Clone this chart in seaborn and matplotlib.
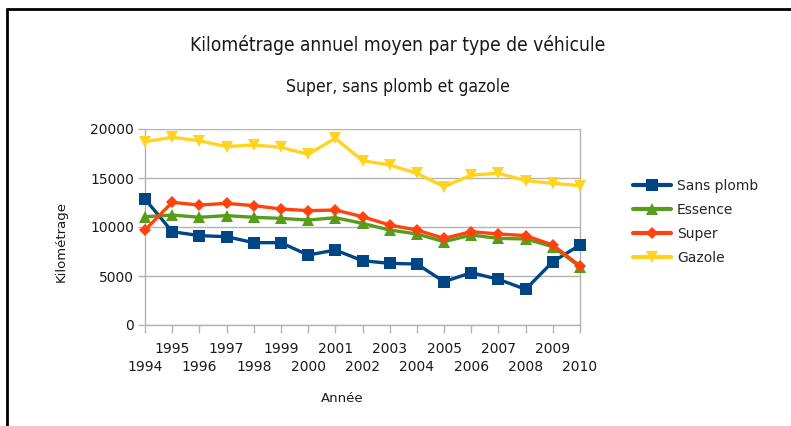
import matplotlib
matplotlib.use("Agg")
import matplotlib.pyplot as plt
import seaborn as sns
import pandas as pd
from matplotlib.lines import Line2D
from matplotlib.ticker import FixedLocator, FixedFormatter

years = list(range(1994, 2011))
sans_plomb = [12850, 9520, 9120, 9010, 8400, 8400, 7140, 7650, 6560, 6290, 6220, 4420, 5340, 4660, 3640, 6460, 8160]
essence = [11050, 11220, 10990, 11160, 10990, 10880, 10710, 10950, 10370, 9690, 9290, 8500, 9180, 8840, 8780, 7990, 5950]
super_ = [9690, 12520, 12240, 12410, 12180, 11840, 11670, 11730, 11050, 10200, 9690, 8840, 9520, 9290, 9120, 8160, 6020]
gazole = [18700, 19150, 18800, 18200, 18370, 18130, 17420, 19050, 16770, 16330, 15480, 14120, 15300, 15480, 14730, 14460, 14220]

series_names = ["Sans plomb", "Essence", "Super", "Gazole"]
series_values = [sans_plomb, essence, super_, gazole]
colors = ["#004586", "#579d1c", "#ff420e", "#ffd320"]
markers = ["s", "^", "D", "v"]
y_ticks = [0, 5000, 10000, 15000, 20000]

rows = []
for name, vals in zip(series_names, series_values):
    for y, v in zip(years, vals):
        rows.append({"Année": y, "Kilométrage": v, "Type": name})
df = pd.DataFrame(rows)

sns.set_theme(style="white")
plt.rcParams["font.family"] = ["DejaVu Sans"]

fig = plt.figure(figsize=(7.91, 4.26), dpi=100)
ax = fig.add_axes([145 / 791, 1 - 325 / 426, (580 - 145) / 791, (325 - 129) / 426])

sns.lineplot(
    data=df, x="Année", y="Kilométrage", hue="Type", style="Type",
    hue_order=series_names, style_order=series_names,
    palette=dict(zip(series_names, colors)),
    markers=dict(zip(series_names, markers)),
    dashes=False, linewidth=2.4, markersize=8, markeredgewidth=0,
    ax=ax, legend=False,
)
# markers at the first and last year stay whole; diamonds a touch smaller
for line, m in zip(ax.get_lines(), markers):
    line.set_clip_on(False)
    if m == "D":
        line.set_markersize(6.5)

ax.set_xlim(years[0], years[-1])
ax.set_ylim(0, 20000)
ax.set_yticks(y_ticks)
ax.set_yticklabels([str(t) for t in y_ticks])

# odd years on the upper row (major ticks), even years on the lower row (minor ticks)
odd_years = [y for y in years if y % 2]
even_years = [y for y in years if not y % 2]
ax.xaxis.set_major_locator(FixedLocator(odd_years))
ax.xaxis.set_major_formatter(FixedFormatter([str(y) for y in odd_years]))
ax.xaxis.set_minor_locator(FixedLocator(even_years))
ax.xaxis.set_minor_formatter(FixedFormatter([str(y) for y in even_years]))

ax.yaxis.grid(True, color="#b3b3b3", linewidth=1)
ax.xaxis.grid(False)
ax.set_axisbelow(True)
for side in ["left", "bottom", "right"]:
    ax.spines[side].set_color("#b3b3b3")
    ax.spines[side].set_linewidth(1)
    ax.spines[side].set_zorder(0.5)
ax.spines["top"].set_visible(False)
ax.tick_params(axis="x", which="major", direction="out", length=6, width=1,
               color="#b3b3b3", labelsize=10, labelcolor="#1a1a1a", pad=6,
               bottom=True)
ax.tick_params(axis="x", which="minor", direction="out", length=6, width=1,
               color="#b3b3b3", labelsize=10, labelcolor="#1a1a1a", pad=19,
               bottom=True)
ax.tick_params(axis="y", direction="out", length=5, width=1, color="#b3b3b3",
               labelsize=10, labelcolor="#1a1a1a", pad=3, left=True)
ax.set_xlabel("Année", fontsize=9.5, color="#1a1a1a", va="center")
ax.set_ylabel("Kilométrage", fontsize=9.5, color="#1a1a1a", va="center")
ax.xaxis.set_label_coords((342 - 145) / 435, (325 - 398) / 196)
ax.yaxis.set_label_coords((61 - 145) / 435, (325 - 242) / 196)

handles = [Line2D([0], [0], color=c, marker=m, linewidth=3,
                  markersize=8 if m != "D" else 6.5, markeredgewidth=0)
           for c, m in zip(colors, markers)]
fig.legend(handles, series_names, loc="upper left",
           bbox_to_anchor=(633 / 791, 1 - 179 / 426), frameon=False,
           fontsize=10, handlelength=2.7, handletextpad=0.45, labelspacing=0.72,
           borderaxespad=0, borderpad=0)

fig.text(0.503, 1 - 45 / 426, "Kilométrage annuel moyen par type de véhicule",
         ha="center", va="center", fontsize=13.8, fontstretch="condensed",
         family=["DejaVu Sans"], color="#1a1a1a")
fig.text(0.503, 1 - 87 / 426, "Super, sans plomb et gazole",
         ha="center", va="center", fontsize=12.6, fontstretch="condensed",
         family=["DejaVu Sans"], color="#1a1a1a")

# frame lines along the top and left edges
fig.add_artist(Line2D([7 / 791, 1], [1 - 9 / 426, 1 - 9 / 426], color="black",
                      linewidth=2, transform=fig.transFigure))
fig.add_artist(Line2D([7 / 791, 7 / 791], [0, 1 - 9 / 426], color="black",
                      linewidth=2, transform=fig.transFigure))

fig.savefig("out.png", dpi=100, facecolor="white")
